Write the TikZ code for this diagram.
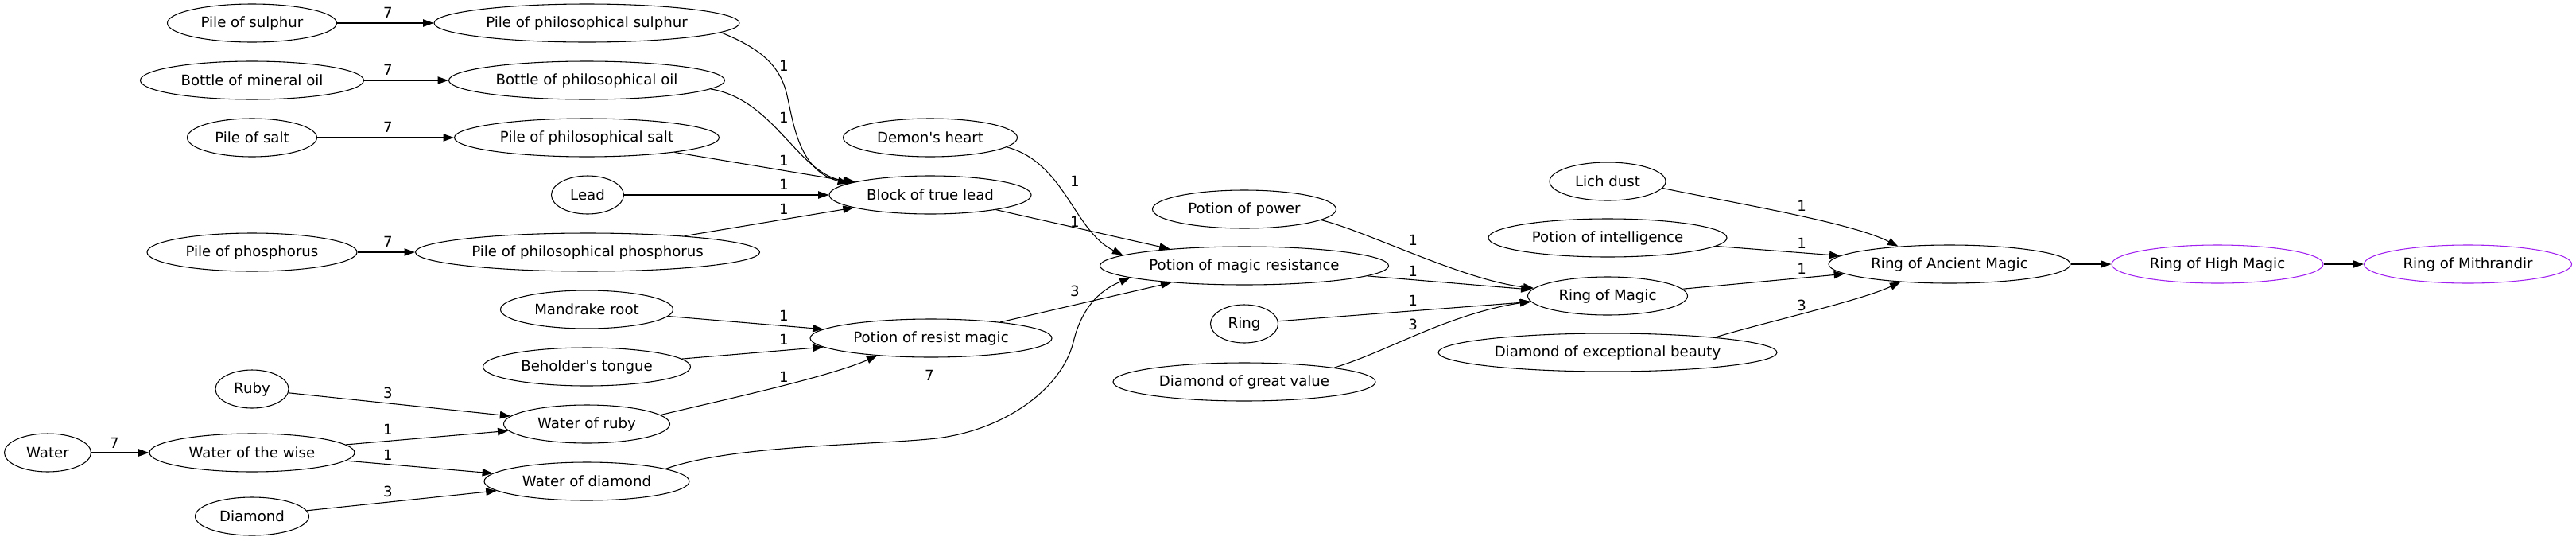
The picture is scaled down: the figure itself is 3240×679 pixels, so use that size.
\documentclass[tikz,border=0pt]{standalone}
\usepackage{fontspec}
\setmainfont{DejaVu Sans}
\usetikzlibrary{shapes.geometric,arrows.meta}
\definecolor{gvpurple}{HTML}{A020F0}
\tikzset{
  item/.style={draw, ellipse, line width=0.8pt, inner sep=0pt, minimum height=36pt,
    minimum width=#1*0.75pt, font=\fontsize{13.6}{16}\selectfont},
  link/.style={line width=0.8pt, -{Triangle[length=10pt,width=7pt]}},
  qty/.style={inner sep=0pt, font=\fontsize{13.6}{16}\selectfont}
}

\begin{document}
\begin{tikzpicture}[x=0.75pt,y=-0.75pt]
        \useasboundingbox (0,0) rectangle (3240,679);

        % Ingredients
        \node[item=213] (sul) at (317,29) {Pile of sulphur};
        \node[item=384] (psul) at (738,29) {Pile of philosophical sulphur};
        \node[item=281] (oil) at (317,101) {Bottle of mineral oil};
        \node[item=347] (poil) at (738,101) {Bottle of philosophical oil};
        \node[item=163] (salt) at (317,173) {Pile of salt};
        \node[item=333] (psalt) at (738,173) {Pile of philosophical salt};
        \node[item=91] (lead) at (739,245) {Lead};
        \node[item=264] (phos) at (317,317) {Pile of phosphorus};
        \node[item=433] (pphos) at (739,317) {Pile of philosophical phosphorus};
        \node[item=254] (block) at (1170,245) {Block of true lead};
        \node[item=219] (demon) at (1170,173) {Demon\textquotesingle s heart};
        \node[item=217] (mand) at (738,389) {Mandrake root};
        \node[item=261] (behold) at (738,461) {Beholder\textquotesingle s tongue};
        \node[item=92] (ruby) at (317,489) {Ruby};
        \node[item=209] (wruby) at (738,533) {Water of ruby};
        \node[item=109] (water) at (60,569) {Water};
        \node[item=258] (wise) at (317,569) {Water of the wise};
        \node[item=258] (wdia) at (738,605) {Water of diamond};
        \node[item=143] (dia) at (317,649) {Diamond};
        \node[item=304] (resist) at (1171,425) {Potion of resist magic};

        % Potions and rings
        \node[item=231] (power) at (1565,263) {Potion of power};
        \node[item=363] (magres) at (1565,334) {Potion of magic resistance};
        \node[item=85] (ring) at (1565,407) {Ring};
        \node[item=330] (dgv) at (1565,480) {Diamond of great value};
        \node[item=146] (lich) at (2022,228) {Lich dust};
        \node[item=300] (intel) at (2022,299) {Potion of intelligence};
        \node[item=201] (rom) at (2022,372) {Ring of Magic};
        \node[item=426] (deb) at (2022,443) {Diamond of exceptional beauty};
        \node[item=304] (ram) at (2452,332) {Ring of Ancient Magic};
        \node[item=266, gvpurple] (rhm) at (2789,332) {\color{black}Ring of High Magic};
        \node[item=261, gvpurple] (rmith) at (3104,332) {\color{black}Ring of Mithrandir};

        % Edges
        \draw[link] (sul) -- (psul);
        \draw[link] (oil) -- (poil);
        \draw[link] (salt) -- (psalt);
        \draw[link] (phos) -- (pphos);
        \draw[link] (psul.-4) .. controls (960,62) and (982,85) .. (990,120)
                .. controls (998,155) and (1005,215) .. (block.172);
        \draw[link] (poil.-4) .. controls (975,125) and (1005,222) .. (block.170);
        \draw[link] (psalt) -- (block);
        \draw[link] (lead) -- (block);
        \draw[link] (pphos) -- (block);
        \draw[link] (demon.-7) .. controls (1340,205) and (1350,290) .. (magres.175);
        \draw[link] (block) -- (magres);
        \draw[link] (resist) -- (magres);
        \draw[link] (wdia.9) .. controls (920,560) and (1080,560) .. (1168,552)
                .. controls (1260,544) and (1335,490) .. (1350,430)
                .. controls (1362,380) and (1390,362) .. (magres.186);
        \draw[link] (mand) -- (resist);
        \draw[link] (behold) -- (resist);
        \draw[link] (wruby.7) .. controls (890,507) and (1040,475) .. (resist.198);
        \draw[link] (ruby) -- (wruby);
        \draw[link] (wise) -- (wruby);
        \draw[link] (wise) -- (wdia);
        \draw[link] (dia) -- (wdia);
        \draw[link] (water) -- (wise);
        \draw[link] (power.-8) .. controls (1720,291) and (1840,352) .. (rom.174);
        \draw[link] (magres) -- (rom);
        \draw[link] (ring) -- (rom);
        \draw[link] (dgv.9) .. controls (1745,442) and (1820,395) .. (rom.184);
        \draw[link] (lich.-7) .. controls (2180,255) and (2330,280) .. (ram.161);
        \draw[link] (intel) -- (ram);
        \draw[link] (rom) -- (ram);
        \draw[link] (deb.8) .. controls (2220,405) and (2340,378) .. (ram.200);
        \draw[link] (ram) -- (rhm);
        \draw[link] (rhm) -- (rmith);

        % Quantities
        \node[qty] (q1) at (488,16) {7};
        \node[qty] (q2) at (488,88) {7};
        \node[qty] (q3) at (488,160) {7};
        \node[qty] (q4) at (488,304) {7};
        \node[qty] (q5) at (986,83) {1};
        \node[qty] (q6) at (986,148) {1};
        \node[qty] (q7) at (986,202) {1};
        \node[qty] (q8) at (986,232) {1};
        \node[qty] (q9) at (986,263) {1};
        \node[qty] (q10) at (1352,228) {1};
        \node[qty] (q11) at (1352,279) {1};
        \node[qty] (q12) at (1352,366) {3};
        \node[qty] (q13) at (1169,472) {7};
        \node[qty] (q14) at (986,397) {1};
        \node[qty] (q15) at (986,427) {1};
        \node[qty] (q16) at (986,474) {1};
        \node[qty] (q17) at (488,494) {3};
        \node[qty] (q18) at (488,540) {1};
        \node[qty] (q19) at (488,572) {1};
        \node[qty] (q20) at (488,618) {3};
        \node[qty] (q21) at (144,557) {7};
        \node[qty] (q22) at (1777,302) {1};
        \node[qty] (q23) at (1777,341) {1};
        \node[qty] (q24) at (1777,378) {1};
        \node[qty] (q25) at (1777,408) {3};
        \node[qty] (q26) at (2266,259) {1};
        \node[qty] (q27) at (2266,306) {1};
        \node[qty] (q28) at (2266,338) {1};
        \node[qty] (q29) at (2266,384) {3};
\end{tikzpicture}
\end{document}
